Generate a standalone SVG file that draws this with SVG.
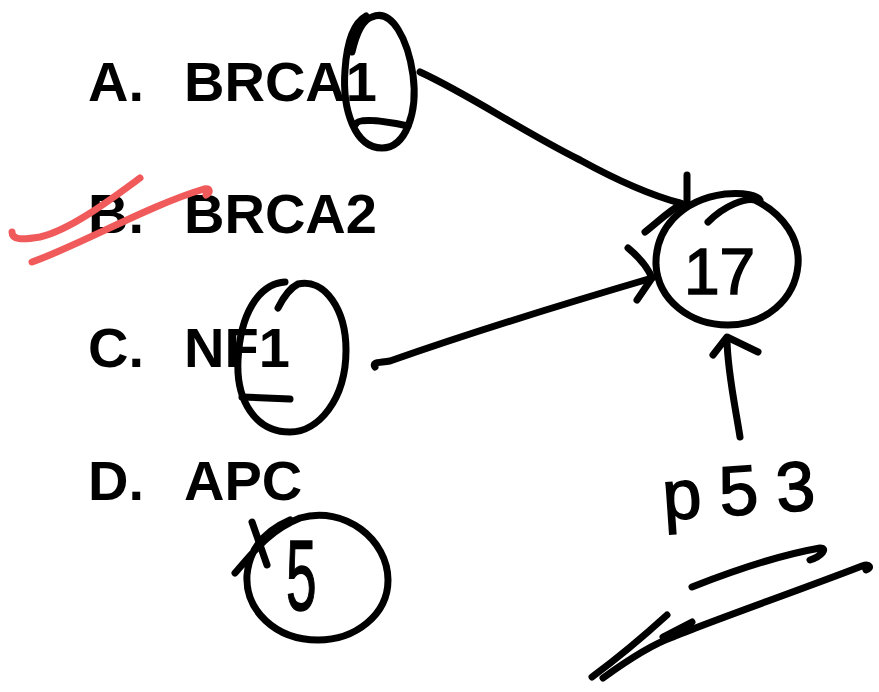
<svg xmlns="http://www.w3.org/2000/svg" width="879" height="692" viewBox="0 0 879 692">
<style>
.lbl{font-family:"Liberation Sans",Arial,sans-serif;font-weight:bold;font-size:56px;fill:#000}
.ink{fill:none;stroke:#000;stroke-width:7;stroke-linecap:round;stroke-linejoin:round}
.red{fill:none;stroke:#f05a5a;stroke-width:7;stroke-linecap:round;stroke-linejoin:round}
.hand{font-family:"Liberation Sans",Arial,sans-serif;font-weight:normal;fill:#000;stroke:#000;stroke-width:1.5}
</style>
<rect width="879" height="692" fill="#fff"/>
<g id="optA">
<text class="lbl" x="88" y="101">A.</text>
<text class="lbl" x="184" y="101">BRCA1</text>
<path class="ink" d="M352,52 C356,35 362,20 372,17 C392,8 408,40 413,75 C418,112 406,148 382,148 C355,148 342,110 345,70 C347,40 355,22 366,16"/>
<path class="ink" d="M356,124 C358,118 380,120 408,126"/>
</g>
<g id="optB">
<text class="lbl" x="88" y="233">B.</text>
<text class="lbl" x="184" y="233">BRCA2</text>
<path class="red" d="M12,232 C12,240 22,240 40,237 C70,230 110,200 140,178"/>
<path class="red" d="M32,262 C80,245 150,205 204,189 C210,188 211,192 206,195"/>
</g>
<g id="optC">
<text class="lbl" x="88" y="367">C.</text>
<text class="lbl" x="184" y="367">NF1</text>
<path class="ink" d="M278,308 C284,296 290,288 298,284 C325,278 346,310 346,350 C346,400 318,432 290,432 C255,432 236,400 238,360 C240,315 258,284 285,282"/>
<path class="ink" d="M242,397 L290,399"/>
</g>
<g id="optD">
<text class="lbl" x="88" y="500">D.</text>
<text class="lbl" x="184" y="500">APC</text>
<path class="ink" d="M235,573 C255,550 270,530 300,518 C345,505 388,540 388,580 C388,615 355,640 318,640 C275,640 245,610 247,575 C249,552 262,532 290,520"/>
<path class="ink" d="M252,522 L267,565"/>
<text class="hand" transform="translate(286,610) scale(0.55,1)" font-size="100">5</text>
</g>
<g id="chr17">
<path class="ink" d="M708,222 C725,205 745,198 755,200 C785,215 800,240 798,265 C795,300 765,325 728,325 C690,325 658,300 656,265 C655,230 680,200 725,194 C745,192 758,196 760,200"/>
<text class="hand" x="684" y="294" font-size="64">17</text>
</g>
<g id="p53">
<text class="hand" transform="translate(664,520) rotate(-4)" font-size="70" letter-spacing="18">p53</text>
<path class="ink" d="M692,587 C730,572 780,555 820,548 C828,548 822,556 810,560"/>
<path class="ink" d="M667,615 C645,635 615,660 592,677 M603,678 C625,662 650,645 673,637 C700,625 800,590 862,566 C870,563 872,568 866,570 M663,637 L692,622"/>
</g>
<g id="connectors">
<path class="ink" d="M420,72 C470,95 520,130 580,160 C620,182 650,195 680,203"/>
<path class="ink" d="M687,175 L687,202 M645,232 C660,220 670,210 682,204"/>
<path class="ink" d="M375,367 C372,362 378,363 390,361 C450,340 560,305 652,278"/>
<path class="ink" d="M628,248 C640,258 648,268 652,278 L637,300"/>
<path class="ink" d="M740,437 C736,410 727,370 727,338"/>
<path class="ink" d="M713,355 L727,337 L758,352"/>
</g>
</svg>
